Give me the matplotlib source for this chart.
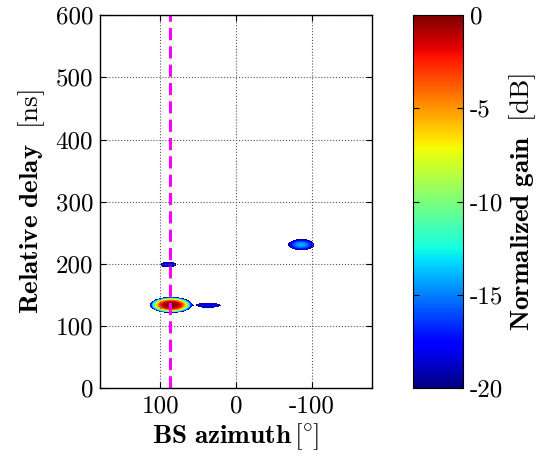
import numpy as np
import matplotlib
matplotlib.use('Agg')
import matplotlib.pyplot as plt

plt.rcParams['font.family'] = 'cmr10'
plt.rcParams['mathtext.fontset'] = 'cm'
plt.rcParams['axes.unicode_minus'] = False

# multipath components
comp_az = [86, 89.5, 36.5, -86.5]     # BS azimuth [deg]
comp_delay = [133.5, 198.5, 133, 230.5]  # relative delay [ns]
comp_gain = [0, -17.5, -18, -14]      # peak gain [dB]
comp_waz = [28, 10.5, 16.5, 17.5]     # visible half-width in azimuth [deg]
comp_wdel = [13, 4.5, 4, 9]           # visible half-width in delay [ns]
comp_shape = [3, 2, 4, 2]             # profile sharpness

los_az = 87                           # dashed reference direction [deg]

xticks = [100, 0, -100]
xticklabels = ['100', '0', '-100']
yticks = [0, 100, 200, 300, 400, 500, 600]
cticks = [0, -5, -10, -15, -20]
cticklabels = ['0', '-5', '-10', '-15', '-20']

# build the angular-delay power map from the components
az = np.arange(-180, 180.25, 0.25)
dl = np.arange(0, 600.25, 0.25)
AZ, DL = np.meshgrid(az, dl)
pw = np.zeros_like(AZ)
for a, d, g, wa, wd, p in zip(comp_az, comp_delay, comp_gain, comp_waz, comp_wdel, comp_shape):
    rho = np.sqrt(((AZ - a) / wa) ** 2 + ((DL - d) / wd) ** 2)
    pw += 10 ** ((g - (20 + g) * rho ** p) / 10)
pdb = 10 * np.log10(pw + 1e-30)
pdb = np.ma.masked_less(pdb, -20)

fig = plt.figure(figsize=(5.56, 4.61), dpi=100)
ax = fig.add_axes([0.180, 0.158, 0.489, 0.809])
cax = fig.add_axes([0.743, 0.158, 0.090, 0.809])

im = ax.imshow(pdb, origin='lower', extent=[az[0], az[-1], dl[0], dl[-1]],
               aspect='auto', cmap='jet', vmin=-20, vmax=0, interpolation='nearest')
ax.axvline(los_az, color='#ff00ff', lw=2.2, dashes=(4, 2))

ax.set_xlim(180, -180)
ax.set_ylim(0, 600)
ax.set_xticks(xticks)
ax.set_xticklabels(xticklabels)
ax.set_yticks(yticks)
ax.grid(True, color='#555555', linestyle=':', linewidth=0.8)
ax.tick_params(direction='in', top=True, right=True, labelsize=18, length=4, pad=5)
for s in ax.spines.values():
    s.set_linewidth(1.0)

ax.set_xlabel(r'$\mathbf{BS\ azimuth}\,[\!{}^\circ\!]$', fontsize=19.5, labelpad=3)
ax.set_ylabel(r'$\mathbf{Relative\ delay}\ \ [\mathrm{ns}]$', fontsize=19.5, labelpad=6)

cb = fig.colorbar(im, cax=cax, ticks=cticks)
cb.ax.set_yticklabels(cticklabels)
cb.ax.tick_params(direction='in', left=True, right=True, labelsize=18, length=4, pad=5)
cb.set_label(r'$\mathbf{Normalized\ gain}\ \ [\mathrm{dB}]$', fontsize=19.5, labelpad=3)

fig.savefig('out.png', dpi=100)
